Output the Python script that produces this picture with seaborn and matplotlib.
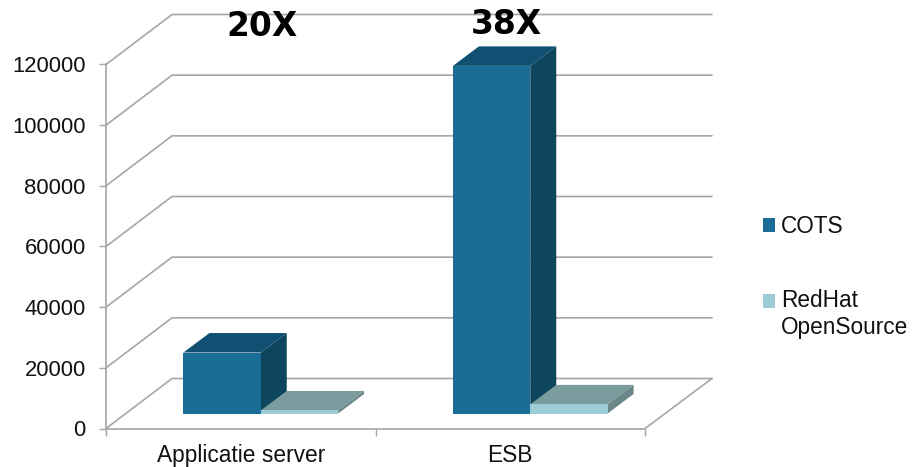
"""
Kostenvergelijking COTS vs RedHat OpenSource, nagebouwd als nep-3D staafdiagram.
"""
import pandas as pd
import seaborn as sns
import matplotlib.pyplot as plt
from matplotlib.patches import Polygon
from matplotlib.transforms import IdentityTransform

categorieen = ["Applicatie server", "ESB"]
series = ["COTS", "RedHat\nOpenSource"]
cots = [20100, 114600]
redhat = [1000, 3000]
y_ticks = [0, 20000, 40000, 60000, 80000, 100000, 120000]
factoren = ["20X", "38X"]

W, H = 913, 467
GRIJS = "#a6a6a6"
KLEUR_VOOR = ["#1b6d97", "#9ccdd6"]
KLEUR_BOVEN = ["#125073", "#7b9c9e"]
KLEUR_ZIJ = ["#0e4660", "#6a8688"]
DIEPTE_STAAF = (26, 19.5)
DIEPTE_WAND = (66, 50)


def maak_assen(fig, links, boven, rechts, onder):
    # posities in pixels van de afbeelding, y van boven naar beneden
    return fig.add_axes([links / W, 1 - onder / H, (rechts - links) / W, (onder - boven) / H])


sns.set_theme(style="white")
plt.rcParams["font.family"] = ["Liberation Sans", "DejaVu Sans"]

df = pd.DataFrame({
    "categorie": categorieen * 2,
    "serie": [series[0]] * 2 + [series[1]] * 2,
    "waarde": cots + redhat,
})

fig = plt.figure(figsize=(W / 100, H / 100), dpi=100)

# voorvlak met de assen
ax = maak_assen(fig, 106, 64.5, 645, 428.5)
ax.set_xlim(-0.5, 1.5)
ax.set_ylim(0, 120000)
ax.set_yticks(y_ticks)
ax.set_xticks([0, 1], categorieen)
ax.set_xticks([-0.5, 0.5, 1.5], minor=True)
ax.tick_params(axis="y", length=5, width=1, color=GRIJS, pad=9.5, labelsize=15.8, labelcolor="#111111", left=True)
ax.tick_params(axis="x", which="major", length=0, pad=11, labelsize=16.4, labelcolor="#111111")
ax.tick_params(axis="x", which="minor", length=5, width=1, color=GRIJS, bottom=True)
sns.despine(ax=ax)
for kant in ["left", "bottom"]:
    ax.spines[kant].set_color(GRIJS)
    ax.spines[kant].set_linewidth(1.2)

# achterwand en vloer
fig.canvas.draw()
dx, dy = DIEPTE_WAND
for waarde in y_ticks:
    x0, y0 = ax.transData.transform((-0.5, waarde))
    ax.plot([x0, x0 + dx, 712], [y0, y0 + dy, y0 + dy], color=GRIJS, lw=1.2,
            transform=IdentityTransform(), clip_on=False)
x1, y1 = ax.transData.transform((1.5, 0))
ax.plot([x1, x1 + dx + 1], [y1, y1 + dy], color=GRIJS, lw=1.2,
        transform=IdentityTransform(), clip_on=False)

# staven staan iets naar achteren t.o.v. het voorvlak
ax_staaf = maak_assen(fig, 126, 49.5, 665, 413.5)
ax_staaf.patch.set_alpha(0)
sns.barplot(data=df, x="categorie", y="waarde", hue="serie", palette=KLEUR_VOOR,
            width=0.574, gap=0, saturation=1, linewidth=0, edgecolor="none", ax=ax_staaf)
ax_staaf.set_ylim(0, 120000)
ax_staaf.axis("off")

fig.canvas.draw()
ddx, ddy = DIEPTE_STAAF
for i, container in enumerate(ax_staaf.containers):
    for staaf in container:
        staaf.set_zorder(4)
        (x_l, y_o), (x_r, y_b) = ax_staaf.transData.transform(staaf.get_bbox().get_points())
        boven = Polygon([(x_l, y_b), (x_r, y_b), (x_r + ddx, y_b + ddy), (x_l + ddx, y_b + ddy)],
                        facecolor=KLEUR_BOVEN[i], edgecolor="none",
                        transform=IdentityTransform(), zorder=2 + i * 0.5, clip_on=False)
        zij = Polygon([(x_r, y_o), (x_r + ddx, y_o + ddy), (x_r + ddx, y_b + ddy), (x_r, y_b)],
                      facecolor=KLEUR_ZIJ[i], edgecolor="none",
                      transform=IdentityTransform(), zorder=2 + i * 0.5, clip_on=False)
        ax_staaf.add_patch(boven)
        ax_staaf.add_patch(zij)

# legenda
leg = ax_staaf.legend(loc="upper left", bbox_to_anchor=(763 / W, 1 - 215 / H),
                      bbox_transform=fig.transFigure, frameon=False, fontsize=16.3,
                      handlelength=0.53, handleheight=0.53, handletextpad=0.265,
                      labelspacing=2.27, borderpad=0, borderaxespad=0,
                      labelcolor="#111111", title=None)
leg.legend_handles[1].set_y(leg.legend_handles[1].get_y() + 10.3)

# factoren boven de staven
for tekst, (x_px, basis_px) in zip(factoren, [(262, 36), (506, 34)]):
    fig.text(x_px / W, 1 - basis_px / H, tekst, ha="center", va="baseline",
             fontsize=23.7, fontweight="bold", family="DejaVu Sans", color="black")

fig.savefig("out.png", dpi=100)
